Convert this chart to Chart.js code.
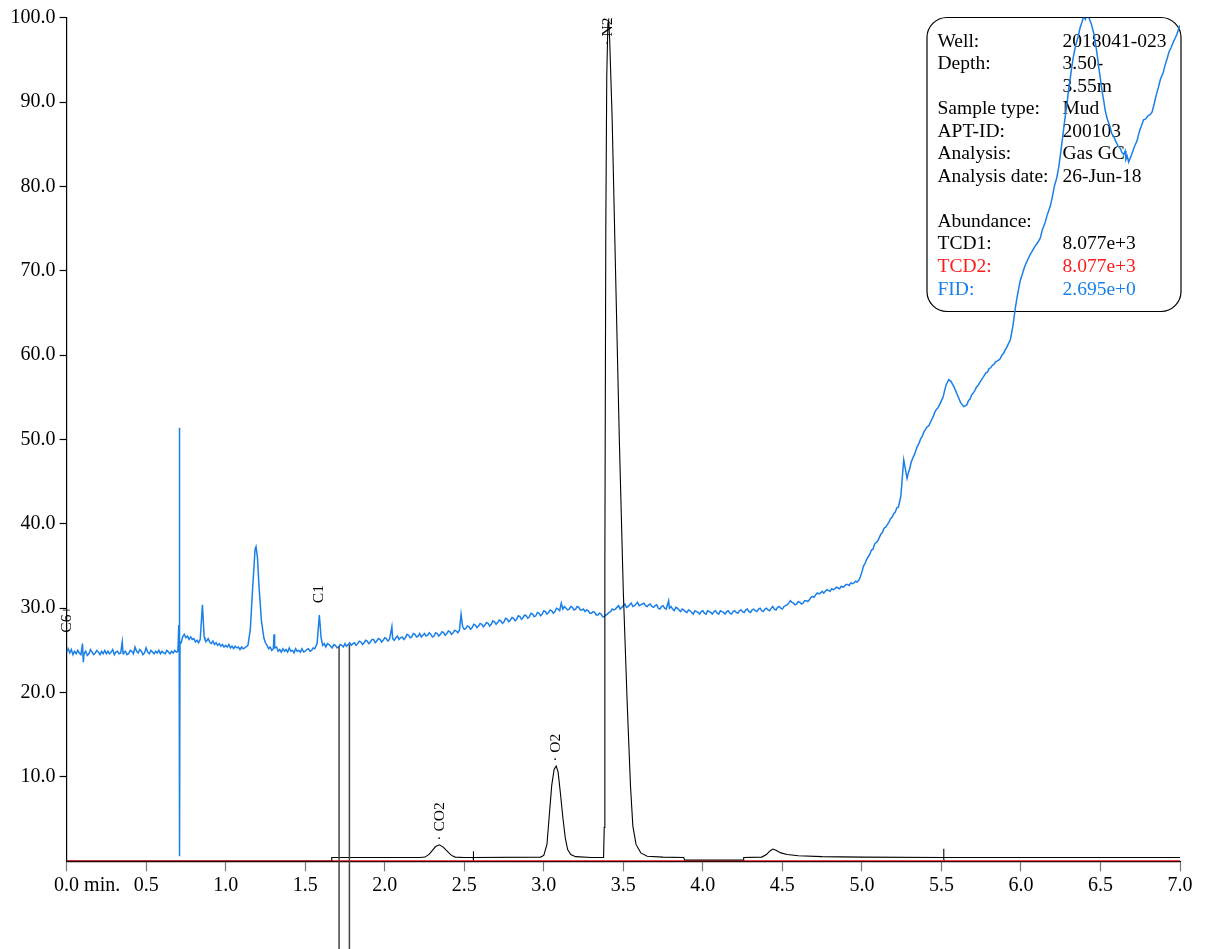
<!DOCTYPE html>
<html><head><meta charset="utf-8">
<script src="https://cdn.jsdelivr.net/npm/chart.js@4/dist/chart.umd.min.js"></script>
<style>html,body{margin:0;padding:0;background:#fff;}canvas{display:block;}</style>
</head><body>
<canvas id="c" width="1206" height="949"></canvas>
<script>
// ---- data ----
const xTickValues = [0, 0.5, 1, 1.5, 2, 2.5, 3, 3.5, 4, 4.5, 5, 5.5, 6, 6.5, 7];
const yTickValues = [0, 10, 20, 30, 40, 50, 60, 70, 80, 90, 100];

// FID trace: [time (min), signal]
const fidSamples = [
[0.00,24.8],[0.01,25.2],[0.02,24.7],[0.03,25.1],[0.04,24.5],[0.05,24.9],[0.06,24.6],[0.07,25.0],[0.08,24.7],[0.09,24.5],[0.10,25.8],[0.105,23.6],[0.11,24.6],[0.12,24.9],[0.13,24.4],[0.14,24.6],
[0.15,25.1],[0.16,24.8],[0.17,24.5],[0.18,24.7],[0.19,25.0],[0.20,24.8],[0.21,24.5],[0.22,24.9],[0.23,24.6],[0.24,25.0],[0.25,24.6],[0.26,24.9],[0.27,24.6],[0.28,24.8],[0.29,25.1],[0.30,24.5],
[0.31,24.8],[0.32,24.9],[0.33,24.6],[0.34,24.7],[0.35,26.0],[0.355,24.6],[0.36,24.8],[0.37,24.9],[0.38,24.5],[0.39,24.6],[0.40,25.0],[0.41,24.9],[0.42,24.6],[0.43,25.4],[0.44,24.9],[0.45,24.7],[0.46,25.1],[0.47,24.9],[0.48,24.5],[0.49,24.7],[0.50,25.3],
[0.51,24.8],[0.52,24.6],[0.53,25.0],[0.54,24.8],[0.55,24.6],[0.56,24.9],[0.57,24.7],[0.58,25.0],[0.59,24.6],[0.60,24.9],[0.61,24.7],[0.62,24.6],[0.63,25.0],[0.64,24.8],[0.65,24.6],[0.66,24.9],[0.67,24.7],[0.68,25.0],[0.69,24.8],[0.70,24.9],
[0.705,28.0],[0.708,25.5],[0.709,51.4],[0.711,0.6],[0.713,26.0],[0.72,25.9],[0.73,26.6],[0.74,26.9],[0.75,26.5],[0.76,26.7],[0.77,26.3],[0.78,26.6],[0.79,26.3],
[0.80,26.4],[0.81,26.0],[0.82,26.2],[0.83,25.9],[0.84,26.3],[0.854,30.4],[0.865,26.6],[0.87,26.3],[0.88,26.1],[0.89,26.4],[0.90,26.0],[0.91,25.8],[0.92,26.1],[0.93,25.7],[0.94,25.9],[0.95,25.6],[0.96,25.8],[0.97,25.5],
[0.98,25.7],[0.99,25.4],[1.00,25.6],[1.01,25.4],[1.02,25.7],[1.03,25.3],[1.04,25.5],[1.05,25.2],[1.06,25.5],[1.07,25.3],[1.08,25.4],[1.09,25.1],[1.10,25.4],[1.11,25.2],[1.12,25.3],[1.14,25.6],[1.155,27.5],
[1.17,32.5],[1.185,37.0],[1.191,37.3],[1.20,36.0],[1.21,32.5],[1.225,28.5],[1.24,26.5],[1.25,25.9],[1.26,25.6],[1.27,25.2],[1.28,25.4],[1.29,25.0],[1.30,25.2],
[1.304,26.9],[1.308,25.3],[1.32,25.4],[1.33,24.9],[1.34,25.1],[1.35,24.8],[1.36,25.2],[1.37,24.9],[1.38,25.1],[1.39,24.8],[1.40,25.3],[1.41,24.9],[1.42,25.0],[1.43,24.7],[1.44,25.2],[1.45,24.9],[1.46,25.0],
[1.47,24.8],[1.48,25.2],[1.49,24.8],[1.50,24.9],[1.51,25.1],[1.52,25.2],[1.53,24.9],[1.54,25.0],[1.55,25.3],[1.56,25.2],[1.575,25.8],[1.589,29.2],[1.60,26.5],[1.61,25.6],[1.62,25.8],[1.63,25.4],
[1.64,25.8],[1.65,25.7],[1.66,25.5],[1.67,25.3],[1.68,25.7],[1.69,25.6],[1.70,25.3],[1.71,25.4],[1.72,25.7],[1.73,25.6],[1.74,25.4],[1.75,25.8],[1.76,25.5],[1.77,25.7],[1.78,25.9],[1.79,25.6],[1.80,25.8],[1.81,25.9],[1.82,25.6],[1.83,25.8],
[1.84,26.1],[1.85,26.0],[1.86,25.7],[1.87,25.9],[1.88,26.2],[1.89,26.1],[1.90,25.8],[1.91,26.0],[1.92,26.3],[1.93,26.3],[1.94,25.9],[1.95,26.1],[1.96,26.4],[1.97,26.3],[1.98,26.0],[1.99,26.2],[2.00,26.5],[2.01,26.4],[2.02,26.1],[2.03,26.3],
[2.045,27.8],[2.05,26.4],[2.06,26.2],[2.07,26.5],[2.08,26.7],[2.09,26.3],[2.10,26.5],[2.11,26.6],[2.12,26.3],[2.13,26.5],[2.14,26.9],[2.15,26.8],[2.16,26.5],[2.17,26.6],[2.18,27.0],[2.19,26.9],[2.20,26.6],[2.21,26.7],
[2.22,27.0],[2.23,26.6],[2.24,26.8],[2.25,27.0],[2.26,26.7],[2.27,26.8],[2.28,27.1],[2.29,26.9],[2.30,26.6],[2.31,26.7],[2.32,27.1],[2.33,27.0],[2.34,26.7],[2.35,26.9],[2.36,27.2],[2.37,27.1],[2.38,26.8],[2.39,27.0],[2.40,27.3],[2.41,27.2],
[2.42,26.9],[2.43,27.1],[2.44,27.4],[2.45,27.3],[2.46,27.1],[2.47,27.4],[2.48,29.3],[2.49,27.8],[2.50,27.5],[2.51,27.6],[2.52,27.9],[2.53,27.8],[2.54,27.5],[2.55,27.7],[2.56,28.1],[2.57,28.0],[2.58,27.7],[2.59,27.9],
[2.60,28.2],[2.61,28.1],[2.62,27.8],[2.63,28.0],[2.64,28.3],[2.65,28.2],[2.66,27.9],[2.67,28.1],[2.68,28.5],[2.69,28.4],[2.70,28.1],[2.71,28.3],[2.72,28.6],[2.73,28.5],[2.74,28.2],[2.75,28.4],[2.76,28.8],[2.77,28.7],[2.78,28.4],[2.79,28.6],
[2.80,28.9],[2.81,28.8],[2.82,28.5],[2.83,28.7],[2.84,29.1],[2.85,29.0],[2.86,28.7],[2.87,28.9],[2.88,29.2],[2.89,29.1],[2.90,28.8],[2.91,29.0],[2.92,29.4],[2.93,29.3],[2.94,29.0],[2.95,29.1],[2.96,29.5],[2.97,29.4],[2.98,29.1],[2.99,29.3],
[3.00,29.7],[3.01,29.6],[3.02,29.3],[3.03,29.5],[3.04,29.8],[3.05,29.7],[3.06,29.4],[3.07,29.6],[3.08,30.0],[3.09,29.9],[3.10,29.7],[3.11,30.6],[3.12,29.9],[3.13,30.2],[3.14,30.0],[3.15,29.8],[3.16,29.9],[3.17,30.2],[3.18,30.1],
[3.19,29.8],[3.20,29.9],[3.21,30.2],[3.22,30.1],[3.23,29.8],[3.24,29.8],[3.25,29.9],[3.26,29.6],[3.27,29.8],[3.28,29.7],[3.29,29.4],[3.30,29.4],[3.31,29.6],[3.32,29.5],[3.33,29.2],[3.34,29.2],[3.35,29.4],[3.36,29.3],[3.37,29.0],[3.38,29.0],
[3.39,29.2],[3.40,29.3],[3.41,29.5],[3.42,29.6],[3.43,29.9],[3.44,29.8],[3.45,29.9],[3.46,30.1],[3.47,30.3],[3.48,29.9],[3.49,30.1],[3.50,30.3],[3.51,30.5],[3.52,30.1],[3.53,30.2],[3.54,30.4],[3.55,30.6],[3.56,30.2],[3.57,30.3],[3.58,30.5],
[3.59,30.7],[3.60,30.3],[3.61,30.4],[3.62,30.5],[3.63,30.6],[3.64,30.3],[3.65,30.2],[3.66,30.4],[3.67,30.5],[3.68,30.2],[3.69,30.1],[3.70,30.3],[3.71,30.4],[3.72,30.0],[3.73,29.9],[3.74,30.2],[3.75,30.3],[3.76,30.0],[3.77,29.9],[3.785,30.9],
[3.79,30.0],[3.80,30.2],[3.81,29.9],[3.82,29.7],[3.83,30.1],[3.84,30.0],[3.85,29.8],[3.86,29.6],[3.87,29.9],[3.88,29.8],[3.89,29.6],[3.90,29.5],[3.91,29.8],[3.92,29.7],[3.93,29.5],[3.94,29.3],[3.95,29.7],[3.96,29.6],[3.97,29.5],[3.98,29.3],
[3.99,29.6],[4.00,29.7],[4.01,29.4],[4.02,29.3],[4.03,29.7],[4.04,29.6],[4.05,29.5],[4.06,29.3],[4.07,29.6],[4.08,29.7],[4.09,29.4],[4.10,29.3],[4.11,29.7],[4.12,29.6],[4.13,29.5],[4.14,29.3],[4.15,29.6],[4.16,29.7],[4.17,29.4],[4.18,29.3],
[4.19,29.6],[4.20,29.7],[4.21,29.5],[4.22,29.4],[4.23,29.7],[4.24,29.8],[4.25,29.6],[4.26,29.5],[4.27,29.8],[4.28,29.9],[4.29,29.6],[4.30,29.5],[4.31,29.8],[4.32,29.9],[4.33,29.7],[4.34,29.6],[4.35,29.9],[4.36,30.0],[4.37,29.7],[4.38,29.6],
[4.39,29.9],[4.40,30.0],[4.41,29.8],[4.42,29.7],[4.43,30.0],[4.44,30.2],[4.45,29.9],[4.46,29.8],[4.47,30.1],[4.48,30.2],[4.49,30.0],[4.50,29.9],[4.51,30.2],[4.52,30.3],[4.53,30.4],[4.54,30.6],[4.55,30.9],[4.56,30.7],[4.57,30.6],
[4.58,30.4],[4.59,30.5],[4.60,30.8],[4.61,30.7],[4.62,30.5],[4.63,30.6],[4.64,30.9],[4.65,30.9],[4.66,30.8],[4.67,31.0],[4.68,31.3],[4.69,31.4],[4.70,31.3],[4.71,31.6],[4.72,31.8],[4.73,31.7],[4.74,31.8],[4.75,32.0],[4.76,31.8],[4.77,32.0],
[4.78,32.2],[4.79,32.1],[4.80,32.0],[4.81,32.3],[4.82,32.2],[4.83,32.3],[4.84,32.5],[4.85,32.4],[4.86,32.3],[4.87,32.6],[4.88,32.5],[4.89,32.6],[4.90,32.8],[4.91,32.8],[4.92,32.7],[4.93,33.0],[4.94,32.9],[4.95,33.0],[4.96,33.2],[4.97,33.1],
[4.98,33.3],[4.99,33.7],[5.00,34.3],[5.01,35.0],[5.02,35.3],[5.03,35.8],[5.04,36.1],[5.05,36.4],[5.06,36.9],[5.07,37.0],[5.08,37.6],[5.09,37.8],[5.10,38.0],[5.11,38.4],[5.12,38.8],[5.13,39.0],[5.14,39.5],[5.15,39.6],[5.16,39.9],[5.17,40.2],
[5.18,40.6],[5.19,40.8],[5.20,41.2],[5.21,41.4],[5.22,41.9],[5.23,42.0],[5.245,43.3],[5.263,47.6],[5.284,45.4],[5.29,45.9],[5.30,46.5],[5.31,47.3],[5.32,47.8],[5.33,48.2],[5.347,49.1],[5.36,49.6],[5.37,50.1],[5.38,50.4],
[5.39,50.9],[5.40,51.2],[5.41,51.5],[5.42,51.6],[5.43,52.0],[5.44,52.4],[5.45,52.8],[5.46,53.3],[5.47,53.6],[5.48,53.8],[5.49,54.2],[5.50,54.6],[5.51,55.0],[5.52,55.8],[5.53,56.5],[5.546,57.1],[5.56,56.9],
[5.58,56.2],[5.60,55.3],[5.62,54.4],[5.64,53.9],[5.66,54.1],[5.67,54.6],[5.68,54.8],[5.69,55.3],[5.70,55.5],[5.71,55.8],[5.72,56.2],[5.73,56.4],[5.745,56.9],[5.76,57.3],[5.77,57.6],[5.78,57.9],[5.79,58.0],
[5.80,58.4],[5.81,58.5],[5.82,58.8],[5.83,58.9],[5.84,59.2],[5.85,59.3],[5.86,59.4],[5.87,59.6],[5.88,60.0],[5.89,60.2],[5.90,60.6],[5.91,60.9],[5.92,61.3],[5.933,61.8],[5.95,63.5],[5.964,65.5],[5.975,66.8],[5.985,67.8],[5.995,68.8],[6.007,69.5],
[6.02,70.3],[6.03,70.8],[6.04,71.2],[6.05,71.6],[6.06,72.0],[6.07,72.3],[6.085,72.8],[6.10,73.2],[6.11,73.5],[6.122,73.9],[6.135,74.9],[6.15,75.6],[6.165,76.6],[6.185,77.7],[6.20,79.0],[6.21,80.0],[6.225,81.0],[6.237,82.2],[6.25,84.0],[6.26,85.5],
[6.275,87.8],[6.29,89.9],[6.30,91.5],[6.31,92.8],[6.32,94.2],[6.33,95.4],[6.345,96.8],[6.36,97.8],[6.372,98.8],[6.384,99.5],[6.395,100.2],[6.405,99.8],[6.415,100.3],[6.43,99.9],[6.445,99.1],[6.457,98.2],
[6.47,96.8],[6.48,95.5],[6.49,94.0],[6.50,92.7],[6.51,91.3],[6.52,90.2],[6.53,89.0],[6.541,88.1],[6.55,87.6],[6.56,87.1],[6.57,86.3],[6.583,85.9],[6.595,85.4],[6.61,84.8],[6.625,84.5],[6.635,84.0],[6.646,83.8],[6.655,84.2],[6.66,83.2],[6.668,83.6],[6.677,82.9],
[6.69,83.5],[6.70,84.0],[6.715,84.8],[6.73,85.4],[6.74,86.2],[6.75,86.8],[6.76,87.3],[6.771,87.9],[6.785,88.0],[6.80,88.4],[6.812,88.5],[6.824,88.8],[6.838,89.8],[6.85,90.8],[6.865,91.8],[6.877,92.7],[6.893,93.4],[6.908,94.5],[6.92,95.2],[6.93,95.9],
[6.945,96.5],[6.96,97.2],[6.97,97.6],[6.98,98.0],[6.99,98.6],[7.00,99.1]
];

// TCD1 trace: [time (min), signal]
const tcd1Samples = [
[0,0],[1.665,0],[1.667,0.45],[2.22,0.45],[2.254,0.5],[2.28,0.85],[2.30,1.3],[2.32,1.75],[2.344,1.95],[2.37,1.65],
[2.40,1.05],[2.42,0.7],[2.443,0.5],[2.50,0.45],[2.556,0.45],[2.557,1.2],[2.558,0.1],[2.559,0.45],[2.98,0.5],[3.00,0.7],
[3.02,2.0],[3.035,5.5],[3.05,9.0],[3.065,10.9],[3.078,11.3],[3.09,10.6],[3.105,8.0],[3.12,5.2],[3.135,2.8],[3.15,1.4],
[3.17,0.8],[3.20,0.55],[3.30,0.45],[3.376,0.45],[3.380,4],[3.384,35],[3.390,75],[3.396,93],[3.403,99.3],[3.408,99.7],
[3.414,97.5],[3.43,88],[3.45,71],[3.475,50],[3.50,32],[3.525,18.5],[3.545,9],[3.56,4.2],[3.58,2.0],[3.61,1.0],
[3.65,0.6],[3.75,0.5],[3.88,0.45],[3.885,0.15],[4.255,0.15],[4.257,0.45],[4.37,0.5],[4.40,0.8],[4.42,1.2],[4.44,1.45],
[4.46,1.3],[4.49,1.0],[4.53,0.8],[4.60,0.65],[4.75,0.55],[5.0,0.5],[5.513,0.45],[5.514,1.5],[5.515,0.3],[5.516,0.45],
[7.0,0.45]
];

// TCD2 trace
const tcd2Samples = [[0,0],[7,0]];

// integration markers
const markerTimes = [1.713, 1.778];
const markerTops = [25.5, 25.7];
const markerBottom = -11;

// peak labels
const peakNames = ['C6+', 'C1', '\u00B7 CO2', '\u00B7 O2', '\u00B7 N2'];
const peakTimes = [0.0, 1.589, 2.344, 3.078, 3.405];
const peakLevels = [27.1, 30.6, 2.45, 11.8, 96.7];

// info box
const infoLabels = ['Well:', 'Depth:', '', 'Sample type:', 'APT-ID:', 'Analysis:', 'Analysis date:', '', 'Abundance:', 'TCD1:', 'TCD2:', 'FID:'];
const infoValues = ['2018041-023', '3.50-', '3.55m', 'Mud', '200103', 'Gas GC', '26-Jun-18', '', '', '8.077e+3', '8.077e+3', '2.695e+0'];
const infoColors = ['#000','#000','#000','#000','#000','#000','#000','#000','#000','#000','#ff1a1a','#1a7fe8'];

// ---- rendering ----
const SERIF = '"Liberation Serif", "Times New Roman", serif';
const FID_BLUE = '#1a7fe8';
const TCD2_RED = '#ee0a0a';

const toPts = arr => arr.map(p => ({x: p[0], y: p[1]}));

const markerSets = markerTimes.map((t, i) => ({
  label: 'marker' + i,
  data: [{x: t, y: markerTops[i]}, {x: t, y: markerBottom}],
  borderColor: '#444', borderWidth: 1.5, clip: false, order: 0
}));

const decor = {
  id: 'decor',
  beforeDraw(chart) {
    const c = chart.ctx;
    c.save(); c.fillStyle = '#fff'; c.fillRect(0, 0, chart.width, chart.height); c.restore();
  },
  beforeDatasetsDraw(chart) {
    const c = chart.ctx;
    c.save();
    const bx = 927, by = 17.5, bw = 254, bh = 294, r = 20;
    c.beginPath();
    c.moveTo(bx + r, by);
    c.arcTo(bx + bw, by, bx + bw, by + bh, r);
    c.arcTo(bx + bw, by + bh, bx, by + bh, r);
    c.arcTo(bx, by + bh, bx, by, r);
    c.arcTo(bx, by, bx + bw, by, r);
    c.closePath();
    c.fillStyle = '#fff'; c.fill();
    c.strokeStyle = '#000'; c.lineWidth = 1.2; c.stroke();
    c.font = '19.5px ' + SERIF;
    c.textBaseline = 'alphabetic';
    c.textAlign = 'left';
    for (let i = 0; i < infoLabels.length; i++) {
      const y = 46.5 + i * 22.55;
      c.fillStyle = infoColors[i];
      if (infoLabels[i]) c.fillText(infoLabels[i], 937.5, y);
      if (infoValues[i]) c.fillText(infoValues[i], 1062.5, y);
    }
    c.restore();
  },
  afterDatasetsDraw(chart) {
    const c = chart.ctx, xs = chart.scales.x, ys = chart.scales.y;
    c.save();
    c.font = '15.5px ' + SERIF;
    c.fillStyle = '#000';
    c.textAlign = 'left';
    c.textBaseline = 'middle';
    for (let i = 0; i < peakNames.length; i++) {
      const px = xs.getPixelForValue(peakTimes[i]);
      const py = ys.getPixelForValue(peakLevels[i]);
      c.save();
      c.translate(px, py);
      c.rotate(-Math.PI / 2);
      c.fillText(peakNames[i], 0, 0);
      c.restore();
    }
    c.restore();
  },
  afterDraw(chart) {
    const c = chart.ctx, xs = chart.scales.x;
    c.save();
    c.font = '20px ' + SERIF;
    c.fillStyle = '#000';
    c.textBaseline = 'middle';
    c.textAlign = 'left';
    const x0 = xs.getPixelForValue(0);
    const w = c.measureText('0.0').width;
    c.fillText('0.0 min.', x0 - w / 2, chart.chartArea.bottom + 24);
    c.restore();
  }
};

new Chart(document.getElementById('c'), {
  type: 'line',
  data: {
    datasets: [
      ...markerSets,
      {label: 'TCD1', data: toPts(tcd1Samples), borderColor: '#000', borderWidth: 1.1, order: 1},
      {label: 'FID', data: toPts(fidSamples), borderColor: FID_BLUE, borderWidth: 1.5, order: 2},
      {label: 'TCD2', data: toPts(tcd2Samples), borderColor: TCD2_RED, borderWidth: 2, order: 3}
    ]
  },
  options: {
    responsive: false,
    animation: false,
    devicePixelRatio: 1,
    elements: {point: {radius: 0}, line: {tension: 0, fill: false}},
    plugins: {legend: {display: false}, tooltip: {enabled: false}},
    layout: {padding: {left: 0, right: 26, top: 17.7, bottom: 0}},
    scales: {
      x: {
        type: 'linear', min: 0, max: 7,
        afterBuildTicks: s => { s.ticks = xTickValues.map(v => ({value: v})); },
        afterFit: s => { s.height = 87.7; },
        grid: {drawOnChartArea: false, tickLength: 10, tickColor: '#777', tickWidth: 1.2},
        border: {color: '#000', width: 1.2},
        ticks: {
          color: '#000', padding: 2, maxRotation: 0, autoSkip: false,
          font: {family: SERIF, size: 20},
          callback: v => v === 0 ? '' : v.toFixed(1)
        }
      },
      y: {
        type: 'linear', min: 0, max: 100,
        afterBuildTicks: s => { s.ticks = yTickValues.map(v => ({value: v})); },
        afterFit: s => { s.width = 66.6; },
        grid: {drawOnChartArea: false, tickLength: 7, tickWidth: 1.2,
               tickColor: ctx => (ctx.tick && ctx.tick.value === 0) ? 'rgba(0,0,0,0)' : '#000'},
        border: {color: '#000', width: 1.2},
        ticks: {
          color: '#000', padding: 4, autoSkip: false,
          font: {family: SERIF, size: 20},
          callback: v => v === 0 ? '' : v.toFixed(1)
        }
      }
    }
  },
  plugins: [decor]
});
</script>
</body></html>
